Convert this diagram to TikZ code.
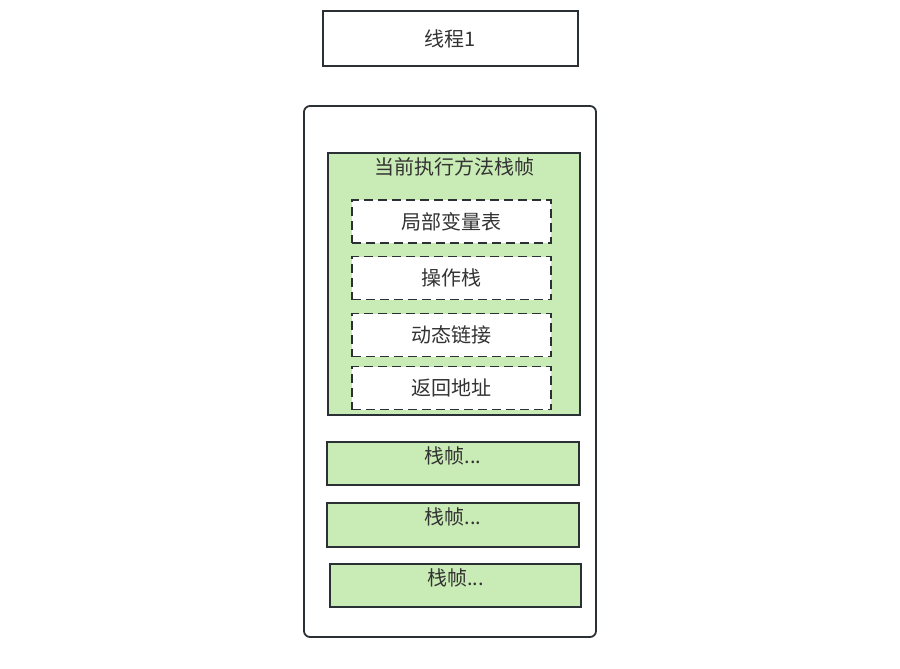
\documentclass[tikz,border=0pt]{standalone}
\usepackage{fontspec}
\setmainfont{Noto Sans CJK SC}
\definecolor{edge}{HTML}{2B3035}
\definecolor{frame}{HTML}{C9EBB5}
\definecolor{ink}{HTML}{333333}
\begin{document}
\begin{tikzpicture}[x=1pt, y=-1pt, line width=1.8pt,
  every node/.style={text=ink, font=\fontsize{20}{24}\selectfont},
  box/.style={draw=edge, fill=white, inner sep=0pt},
  greenbox/.style={draw=edge, fill=frame, inner sep=0pt},
  slot/.style={draw=edge, fill=white, dashed, dash pattern=on 9pt off 5pt, inner sep=0pt, minimum width=199pt, minimum height=43pt}]
\useasboundingbox (0,0) rectangle (900,669);
% thread
\node[box, minimum width=255pt, minimum height=55pt] (thread) at (450.5,38.5) {线程1};
\node[box, rounded corners=6pt, minimum width=292pt, minimum height=531pt] (stack) at (450,371.5) {};
% current frame
\node[greenbox, minimum width=252pt, minimum height=262pt] (cur) at (454,284) {};
\node (curtitle) at (454,167) {当前执行方法栈帧};
\node[slot] (locals) at (451.5,221.5) {局部变量表};
\node[slot] (opstack) at (451.5,278) {操作栈};
\node[slot] (dynlink) at (451.5,335) {动态链接};
\node[slot] (retaddr) at (451.5,388) {返回地址};
% other frames
\node[greenbox, minimum width=252pt, minimum height=43pt] (f1) at (453,463.5) {};
\node[greenbox, minimum width=252pt, minimum height=44pt] (f2) at (453,525) {};
\node[greenbox, minimum width=251pt, minimum height=43pt] (f3) at (455.5,585.5) {};
\node (f1txt) at (453,456) {栈帧...};
\node (f2txt) at (453,517) {栈帧...};
\node (f3txt) at (455.5,578) {栈帧...};
\end{tikzpicture}
\end{document}
